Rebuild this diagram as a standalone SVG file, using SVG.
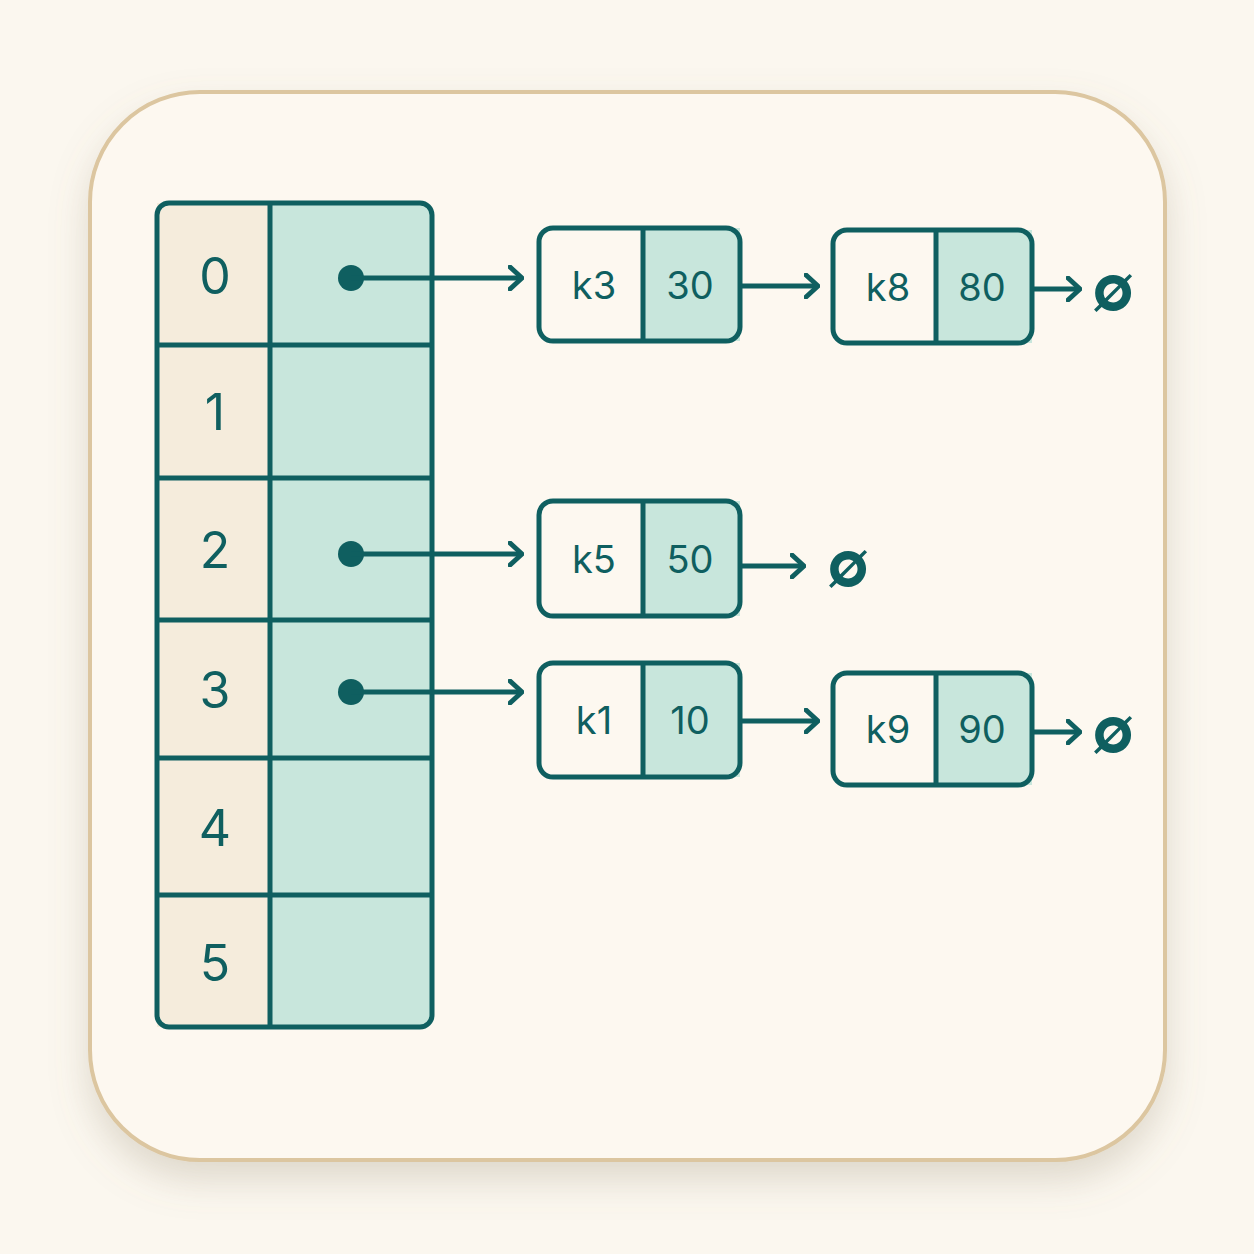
<svg xmlns="http://www.w3.org/2000/svg" width="1254" height="1254" viewBox="0 0 1254 1254">
<defs>
<filter id="sh" x="-10%" y="-10%" width="120%" height="130%"><feDropShadow dx="0" dy="18" stdDeviation="18" flood-color="#8a7a60" flood-opacity="0.25"/></filter>
<marker id="ah" viewBox="0 0 16 26" refX="14" refY="13" markerWidth="16" markerHeight="26" markerUnits="userSpaceOnUse" orient="auto"><path d="M2,2 L14,13 L2,24" fill="none" stroke="#0f5f60" stroke-width="5" stroke-linecap="round" stroke-linejoin="round"/></marker>
<style>
.ln{stroke:#0f5f60;stroke-width:5;}
.ix{fill:#f5ecdc;}
.pt{fill:#c8e6dc;}
.t{font-family:"Inter","Liberation Sans",sans-serif;fill:#0f5f60;text-anchor:middle;dominant-baseline:central;}
.big{font-size:50px;}
.nd{font-size:38px;}
.nul{font-size:64px;font-weight:bold;}
.c{stroke:#0f5f60;stroke-width:5;fill:none;marker-end:url(#ah);}
</style>
</defs>
<rect width="1254" height="1254" fill="#fbf7ef"/>
<rect x="90" y="92" width="1075" height="1068" rx="110" fill="#fdf8f0" stroke="#dcc6a0" stroke-width="4" filter="url(#sh)"/>
<g id="table">
<rect x="157" y="203" width="275" height="824" rx="12" class="pt"/>
<rect x="157" y="203" width="113" height="824" class="ix"/>
<rect x="157" y="203" width="275" height="824" rx="12" fill="none" class="ln"/>
<line x1="270" y1="203" x2="270" y2="1027" class="ln"/>
<line x1="157" y1="345" x2="432" y2="345" class="ln"/>
<line x1="157" y1="478" x2="432" y2="478" class="ln"/>
<line x1="157" y1="620" x2="432" y2="620" class="ln"/>
<line x1="157" y1="758" x2="432" y2="758" class="ln"/>
<line x1="157" y1="895" x2="432" y2="895" class="ln"/>
<text x="215" y="276" class="t big">0</text>
<text x="215" y="412" class="t big">1</text>
<text x="215" y="550" class="t big">2</text>
<text x="215" y="690" class="t big">3</text>
<text x="215" y="828" class="t big">4</text>
<text x="215" y="963" class="t big">5</text>
<circle cx="351" cy="278" r="13" fill="#0f5f60"/>
<circle cx="351" cy="554" r="13" fill="#0f5f60"/>
<circle cx="351" cy="692" r="13" fill="#0f5f60"/>
</g>
<g id="n-k3"><rect x="643" y="228" width="97" height="113" class="pt"/><rect x="539" y="228" width="201" height="113" rx="14" fill="none" class="ln"/><line x1="643" y1="228" x2="643" y2="341" class="ln"/><text x="594" y="285" class="t nd">k3</text><text x="690" y="285" class="t nd">30</text></g>
<g id="n-k8"><rect x="936" y="230" width="96" height="113" class="pt"/><rect x="833" y="230" width="199" height="113" rx="14" fill="none" class="ln"/><line x1="936" y1="230" x2="936" y2="343" class="ln"/><text x="888" y="287" class="t nd">k8</text><text x="982" y="287" class="t nd">80</text></g>
<g id="n-k5"><rect x="643" y="501" width="97" height="115" class="pt"/><rect x="539" y="501" width="201" height="115" rx="14" fill="none" class="ln"/><line x1="643" y1="501" x2="643" y2="616" class="ln"/><text x="594" y="559" class="t nd">k5</text><text x="690" y="559" class="t nd">50</text></g>
<g id="n-k1"><rect x="643" y="663" width="97" height="114" class="pt"/><rect x="539" y="663" width="201" height="114" rx="14" fill="none" class="ln"/><line x1="643" y1="663" x2="643" y2="777" class="ln"/><text x="594" y="720" class="t nd">k1</text><text x="690" y="720" class="t nd">10</text></g>
<g id="n-k9"><rect x="936" y="673" width="96" height="112" class="pt"/><rect x="833" y="673" width="199" height="112" rx="14" fill="none" class="ln"/><line x1="936" y1="673" x2="936" y2="785" class="ln"/><text x="888" y="729" class="t nd">k9</text><text x="982" y="729" class="t nd">90</text></g>
<g id="nulls">
<text x="1113" y="286" class="t nul">∅</text>
<text x="848" y="562" class="t nul">∅</text>
<text x="1113" y="728" class="t nul">∅</text>
</g>
<g id="connectors">
<line x1="351" y1="278" x2="522" y2="278" class="c"/>
<line x1="351" y1="554" x2="522" y2="554" class="c"/>
<line x1="351" y1="692" x2="522" y2="692" class="c"/>
<line x1="742" y1="286" x2="818" y2="286" class="c"/>
<line x1="742" y1="721" x2="818" y2="721" class="c"/>
<line x1="742" y1="566" x2="804" y2="566" class="c"/>
<line x1="1034" y1="289" x2="1080" y2="289" class="c"/>
<line x1="1034" y1="732" x2="1080" y2="732" class="c"/>
</g>
</svg>
